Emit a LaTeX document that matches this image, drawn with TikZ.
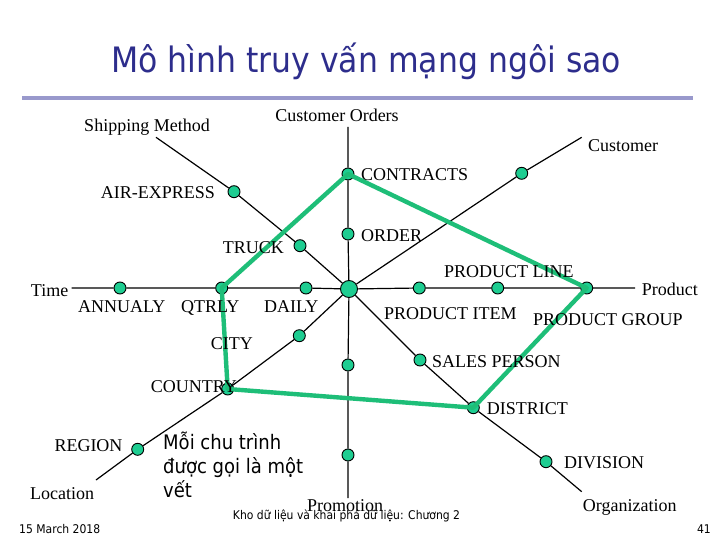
\documentclass[tikz,border=0pt]{standalone}
\usepackage{fontspec}
\setmainfont{Liberation Serif}
\newfontfamily\tahoma[FakeStretch=0.9]{DejaVu Sans}
\definecolor{dotfill}{RGB}{30,205,145}
\definecolor{tracecol}{RGB}{30,190,120}
\definecolor{titleblue}{RGB}{45,45,140}
\definecolor{rulecol}{RGB}{153,153,204}
\pgfdeclarelayer{background}
\pgfsetlayers{background,main}
\begin{document}
\begin{tikzpicture}[x=1pt,y=-1pt,
  dot/.style={circle,draw=black,line width=0.9pt,fill=dotfill,minimum size=12pt,inner sep=0pt},
  hub/.style={dot,minimum size=17pt},
  axisline/.style={line width=1.2pt,black},
  tracepath/.style={line width=4.4pt,tracecol,line join=round},
  lbl/.style={inner sep=0pt,font=\fontsize{18}{20}\selectfont},
  lblw/.style={lbl,anchor=base west},
  lble/.style={lbl,anchor=base east},
  lblc/.style={lbl,anchor=base},
  sanstext/.style={inner sep=0pt,font=\tahoma\fontsize{20}{24}\selectfont,align=left,anchor=base west}]
\useasboundingbox (0,0) rectangle (720,540);

% title and rule
\node[inner sep=0pt,anchor=base,text=titleblue,font=\tahoma\fontsize{35}{38}\selectfont] (title) at (366,73) {Mô hình truy vấn mạng ngôi sao};
\coordinate (ruleL) at (22,98);
\coordinate (ruleR) at (693,98);
\draw[rulecol,line width=4.5pt] (ruleL) -- (ruleR);

% hub
\node[hub] (hub) at (349,289) {};

% axis ends
\coordinate (timeE) at (71.7,288);
\coordinate (prodE) at (635,288);
\coordinate (coE) at (348,127);
\coordinate (promoE) at (348,498);
\coordinate (shipE) at (156,137.3);
\coordinate (custE) at (581.7,137.3);
\coordinate (locE) at (96,480);
\coordinate (orgE) at (581.7,491.7);

% dots
\node[dot] (annualy) at (120,288) {};
\node[dot] (qtrly) at (221.7,288) {};
\node[dot] (daily) at (306,288) {};
\node[dot] (pitem) at (419.3,288) {};
\node[dot] (pline) at (497.7,288) {};
\node[dot] (pgroup) at (586.7,288) {};
\node[dot] (contracts) at (348,174) {};
\node[dot] (order) at (348,234) {};
\node[dot] (promo1) at (348,365) {};
\node[dot] (promo2) at (348,455) {};
\node[dot] (air) at (234,191.7) {};
\node[dot] (truck) at (300,245.7) {};
\node[dot] (cust1) at (521.7,173.3) {};
\node[dot] (city) at (299.3,335.7) {};
\node[dot] (country) at (227.7,389) {};
\node[dot] (region) at (137.7,449.3) {};
\node[dot] (sales) at (420,360) {};
\node[dot] (district) at (473.3,407.7) {};
\node[dot] (division) at (546,461.7) {};

% axes
\begin{pgfonlayer}{background}
\fill[white] (0,0) rectangle (720,540);
\draw[axisline] (timeE) -- (annualy) -- (qtrly) -- (daily) -- (hub);
\draw[axisline] (hub) -- (pitem) -- (pline) -- (pgroup) -- (prodE);
\draw[axisline] (coE) -- (contracts) -- (order) -- (hub);
\draw[axisline] (hub) -- (promo1) -- (promo2) -- (promoE);
\draw[axisline] (shipE) -- (air) -- (truck) -- (hub);
\draw[axisline] (hub) -- (cust1) -- (custE);
\draw[axisline] (hub) -- (city) -- (country) -- (region) -- (locE);
\draw[axisline] (hub) -- (sales) -- (district) -- (division) -- (orgE);
\end{pgfonlayer}

% trace
\draw[tracepath] (qtrly.center) -- (contracts.center) -- (pgroup.center) -- (district.center) -- (country.center) -- cycle;

% labels
\node[lblc] (lShip) at (147,132) {Shipping Method};
\node[lblc] (lCO) at (337,122) {Customer Orders};
\node[lblw] (lCust) at (588,152) {Customer};
\node[lblw] (lContracts) at (361,181) {CONTRACTS};
\node[lble] (lAir) at (215,199) {AIR-EXPRESS};
\node[lblw] (lOrder) at (361,241) {ORDER};
\node[lblw] (lTruck) at (222.7,253) {TRUCK};
\node[lblw] (lPLine) at (444,277.7) {PRODUCT LINE};
\node[lblw] (lTime) at (30.7,296) {Time};
\node[lblw] (lProduct) at (641.7,295) {Product};
\node[lblw] (lAnnualy) at (78,312.7) {ANNUALY};
\node[lblw] (lQtrly) at (181,312.7) {QTRLY};
\node[lblw] (lDaily) at (264,312.7) {DAILY};
\node[lblw] (lPItem) at (384,319) {PRODUCT ITEM};
\node[lblw] (lPGroup) at (533,325.3) {PRODUCT GROUP};
\node[lblw] (lCity) at (210.7,349.3) {CITY};
\node[lblw] (lSales) at (432,367) {SALES PERSON};
\node[lblw] (lCountry) at (150.7,392) {COUNTRY};
\node[lblw] (lDistrict) at (486.7,414.3) {DISTRICT};
\node[lblw] (lRegion) at (54.3,451) {REGION};
\node[lblw] (lDivision) at (564,468.7) {DIVISION};
\node[lblw] (lLocation) at (30,499.3) {Location};
\node[lblw] (lOrg) at (582.7,511.5) {Organization};
\node[lblw] (lPromo) at (307,511) {Promotion};

\node[sanstext] (note) at (163,497.5) {Mỗi chu trình\\được gọi là một\\vết};

% footer
\node[inner sep=0pt,anchor=base,font=\tahoma\fontsize{12}{14}\selectfont] (footer) at (346.5,519.5) {Kho dữ liệu và khai phá dữ liệu: Chương 2};
\node[inner sep=0pt,anchor=base west,font=\tahoma\fontsize{12}{14}\selectfont] (date) at (19,533.5) {15 March 2018};
\node[inner sep=0pt,anchor=base east,font=\tahoma\fontsize{12}{14}\selectfont] (page) at (711,533.5) {41};
\end{tikzpicture}
\end{document}
